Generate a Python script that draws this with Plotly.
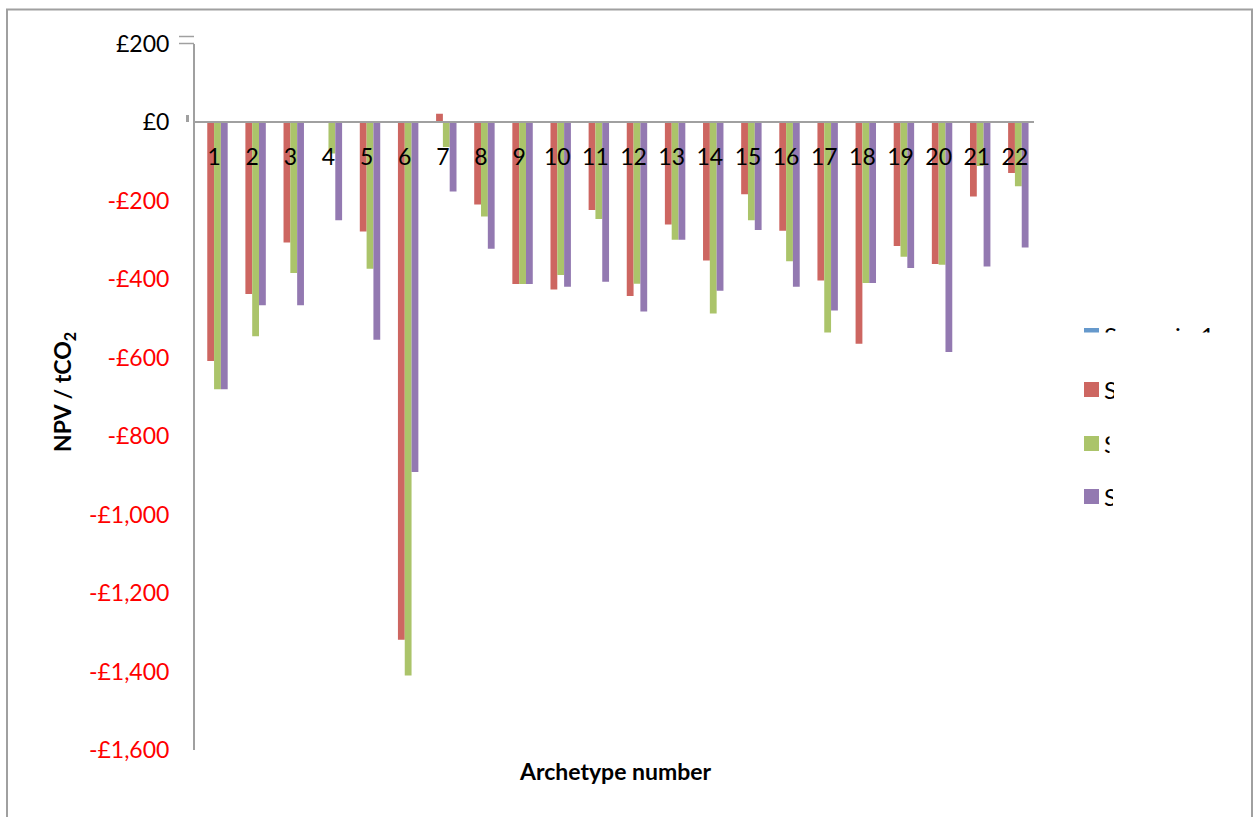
import plotly.graph_objects as go

# ---- data ----
archetypes = [str(i) for i in range(1, 23)]
series_names = ["Scenario 1", "Scenario 2", "Scenario 3", "Scenario 4"]
scenario_1 = [0] * 22
scenario_2 = [-609, -438, -307, 0, -279, -1319, 21, -210, -413, -427, -224,
              -443, -261, -353, -184, -277, -404, -565, -316, -362, -190, -130]
scenario_3 = [-681, -546, -385, -80, -374, -1410, -64, -241, -413, -390, -247,
              -412, -300, -488, -250, -355, -536, -410, -343, -364, -112, -164]
scenario_4 = [-681, -467, -467, -250, -555, -892, -177, -323, -413, -420, -407,
              -483, -300, -430, -275, -420, -480, -410, -372, -586, -368, -320]
y_ticks = list(range(-1600, 201, 200))

series_values = [scenario_1, scenario_2, scenario_3, scenario_4]
colors = ["#6699CC", "#CD6661", "#ABC46A", "#9379B1"]

# ---- page geometry (pixels) ----
W, H = 1255, 817
FONT = "Lato"
PLOT_L, PLOT_R = 195, 1034
PLOT_T, PLOT_B = 43.5, 750
ZERO_Y = 122
AXIS_GREY = "#A0A0A0"


def px(x):
    return x / W


def py(y):
    return 1 - y / H


def money(v):
    s = "£{:,}".format(abs(v))
    if v < 0:
        return '<span style="color:#FF0000">-' + s + "</span>"
    return s


fig = go.Figure()

for name, vals, col in zip(series_names, series_values, colors):
    fig.add_trace(go.Bar(
        x=archetypes, y=vals, name=name,
        marker=dict(color=col, line=dict(width=0)),
        xaxis="x", yaxis="y", showlegend=False,
    ))

# ---- hand-built legend: each entry lives in its own small clipped box ----
legend_rows = [335.5, 389.5, 443.5, 496.5]
legend_clip = [  # (left, right, top, bottom) of each entry's visible window
    (1075, 1250, 320, 332.5),
    (1075, 1114, 370, 415),
    (1075, 1109.5, 424, 465),
    (1075, 1113, 478, 518),
]
SWATCH_X = 1091.5
TEXT_X = 1104

layout_axes = {}
for i, (name, col, row, clip) in enumerate(zip(series_names, colors, legend_rows, legend_clip)):
    k = i + 2
    l, r, t, b = clip
    fig.add_trace(go.Scatter(
        x=[SWATCH_X], y=[-row], mode="markers",
        marker=dict(symbol="square", size=15, color=col, line=dict(width=0)),
        cliponaxis=True, xaxis=f"x{k}", yaxis=f"y{k}", showlegend=False,
        hoverinfo="skip",
    ))
    fig.add_trace(go.Scatter(
        x=[TEXT_X], y=[-row - 3], mode="text", text=[name],
        textposition="middle right",
        textfont=dict(family=FONT, size=24, color="#000000"),
        cliponaxis=True, xaxis=f"x{k}", yaxis=f"y{k}", showlegend=False,
        hoverinfo="skip",
    ))
    layout_axes[f"xaxis{k}"] = dict(domain=[px(l), px(r)], range=[l, r],
                                    visible=False, anchor=f"y{k}", fixedrange=True)
    layout_axes[f"yaxis{k}"] = dict(domain=[py(b), py(t)], range=[-b, -t],
                                    visible=False, anchor=f"x{k}", fixedrange=True)

fig.update_layout(
    width=W, height=H, autosize=False,
    margin=dict(l=0, r=0, t=0, b=0, pad=0),
    paper_bgcolor="white", plot_bgcolor="white",
    barmode="group", bargap=0.4 / 1.4, bargroupgap=0,
    showlegend=False,
    font=dict(family=FONT, size=23, color="#000000"),
    xaxis=dict(
        type="category", domain=[px(PLOT_L), px(PLOT_R)], range=[-0.5, 21.5],
        anchor="free", position=py(ZERO_Y), automargin=False,
        showline=True, linecolor=AXIS_GREY, linewidth=2,
        showgrid=False, zeroline=False, ticks="",
        tickfont=dict(family=FONT, size=23, color="#000000"),
        ticklabelstandoff=14,
    ),
    yaxis=dict(
        domain=[py(PLOT_B), py(PLOT_T)], range=[-1600, 200], automargin=False,
        tickvals=y_ticks, ticktext=[money(v) for v in y_ticks],
        showline=True, linecolor=AXIS_GREY, linewidth=2,
        showgrid=False, zeroline=False, ticks="",
        tickfont=dict(family=FONT, size=23, color="#000000"),
        ticklabelstandoff=19, anchor="x",
    ),
    **layout_axes,
)

fig.add_annotation(
    text="<b>Archetype number</b>", x=px(615), y=py(771),
    xref="paper", yref="paper", xanchor="center", yanchor="middle",
    showarrow=False, font=dict(family=FONT, size=23, color="#000000"),
)
fig.add_annotation(
    text="<b>NPV / tCO<sub>2</sub></b>", x=px(63), y=py(392),
    xref="paper", yref="paper", xanchor="center", yanchor="middle",
    showarrow=False, textangle=-90,
    font=dict(family=FONT, size=23, color="#000000"),
)

# chart frame and small axis stubs
fig.add_shape(type="rect", xref="paper", yref="paper",
              x0=px(7), x1=px(1252), y0=py(840), y1=py(9.5),
              line=dict(color=AXIS_GREY, width=2), fillcolor="rgba(0,0,0,0)")
for y0 in (36.5, 43.5):
    fig.add_shape(type="line", xref="paper", yref="paper",
                  x0=px(179), x1=px(194), y0=py(y0), y1=py(y0),
                  line=dict(color=AXIS_GREY, width=1.5))
fig.add_shape(type="line", xref="paper", yref="paper",
              x0=px(187.5), x1=px(187.5), y0=py(115), y1=py(122),
              line=dict(color=AXIS_GREY, width=3))

fig.write_html("out.html")
